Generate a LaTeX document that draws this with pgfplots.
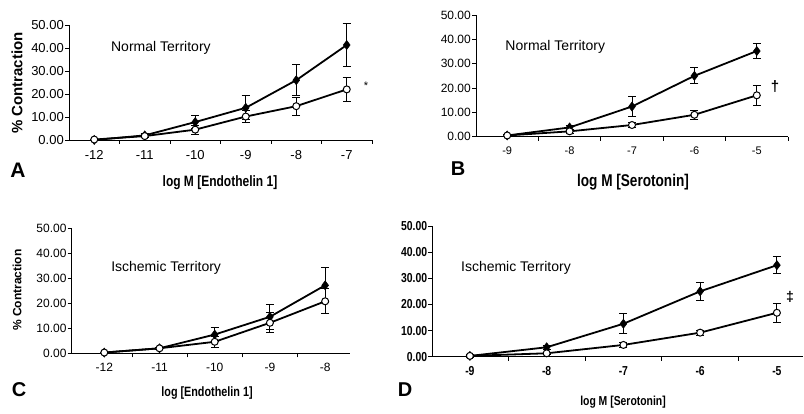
\documentclass[border=0pt]{standalone}
\usepackage{pgfplots}
\pgfplotsset{compat=1.18}
\usepackage{fontspec}
\setmainfont{Liberation Sans}
\newfontfamily\narrow[FakeStretch=0.8]{Liberation Sans}

% one style shared by the four panels
\pgfplotsset{
  panel/.style={
    scale only axis, clip=false,
    axis lines=left, axis line style={-, black, line width=0.8pt},
    ymin=0, ymax=50, ytick={0,10,...,50},
    yticklabels={0.00,10.00,20.00,30.00,40.00,50.00},
    tick align=outside, major tick length=4pt, minor tick length=4pt,
    tick style={black, line width=0.7pt},
    major x tick style={draw=none},
    xtick=data,
    yticklabel style={inner sep=1pt},
    xticklabel style={inner sep=1pt, yshift=-5pt},
  },
  filled/.style={black, line width=1.8pt, mark=diamond*, mark size=4.5pt,
    mark options={solid, fill=black, line width=0.6pt},
    error bars/.cd, y dir=both, y explicit,
    error bar style={line width=0.9pt},
    error mark options={rotate=90, line width=0.9pt, mark size=4pt}},
  open/.style={black, line width=1.8pt, mark=*, mark size=3.5pt,
    mark options={solid, fill=white, line width=1pt},
    error bars/.cd, y dir=both, y explicit,
    error bar style={line width=0.9pt},
    error mark options={rotate=90, line width=0.9pt, mark size=4pt}},
}

\begin{document}
\begin{tikzpicture}
\useasboundingbox (0,0) rectangle (804pt,414pt);

% ---- A
\begin{axis}[panel, at={(69pt,274pt)}, anchor=south west, width=303pt, height=115pt,
  xmin=-12.5, xmax=-6.5, minor xtick={-11.5,-10.5,...,-6.5},
  xticklabels={-12,-11,-10,-9,-8,-7},
  ticklabel style={font=\fontsize{13}{15}\selectfont}]
\addplot[filled] table[y error=e] {
x y e
-12 0 0
-11 2 0.8
-10 7.8 2.7
-9 14 5.2
-8 26 6.8
-7 41.3 9.5
};
\addplot[open] table[y error=e] {
x y e
-12 0.2 0
-11 1.7 0.5
-10 4.5 2
-9 10.2 2.6
-8 14.7 3.9
-7 22 5.4
};
\node[font=\fontsize{14}{16}\selectfont] at (axis cs:-10.68,40) {Normal Territory};
\end{axis}

% ---- B
\begin{axis}[panel, at={(476pt,277.3pt)}, anchor=south west, width=312pt, height=121.7pt,
  xmin=-9.5, xmax=-4.5, minor xtick={-8.5,-7.5,...,-4.5},
  xticklabels={-9,-8,-7,-6,-5},
  yticklabel style={font=\fontsize{12}{14}\selectfont},
  xticklabel style={font=\fontsize{11}{13}\selectfont}]
\addplot[filled] table[y error=e] {
x y e
-9 0.5 0.5
-8 3.8 1
-7 12.4 4.2
-6 25 3.3
-5 35.2 3
};
\addplot[open] table[y error=e] {
x y e
-9 0.5 0.5
-8 2.2 0.8
-7 4.8 1
-6 9 1.8
-5 17 4
};
\node[font=\fontsize{14}{16}\selectfont] at (axis cs:-8.23,36.9) {Normal Territory};
\end{axis}

% ---- C
\begin{axis}[panel, at={(71.7pt,60.7pt)}, anchor=south west, width=278.3pt, height=125pt,
  xmin=-12.59, xmax=-7.55, minor xtick={-11.5,-10.5,...,-7.5},
  xticklabels={-12,-11,-10,-9,-8},
  ticklabel style={font=\fontsize{12}{14}\selectfont}]
\addplot[filled] table[y error=e] {
x y e
-12 0.3 0
-11 2 0.5
-10 7.5 2.8
-9 14.6 5
-8 27.2 7
};
\addplot[open] table[y error=e] {
x y e
-12 0.3 0
-11 2 0.5
-10 4.6 2.3
-9 12.2 4
-8 20.8 5
};
\node[font=\fontsize{14}{16}\selectfont] at (axis cs:-10.88,34.1) {Ischemic Territory};
\end{axis}

% ---- D
\begin{axis}[panel, at={(432.3pt,57.3pt)}, anchor=south west, width=370.7pt, height=130.7pt,
  xmin=-9.49, xmax=-4.66, minor xtick={-8.5,-7.5,...,-5.5},
  xticklabels={-9,-8,-7,-6,-5},
  ticklabel style={font=\narrow\bfseries\fontsize{13}{15}\selectfont}]
\addplot[filled] table[y error=e] {
x y e
-9 0.3 0
-8 3.6 0.8
-7 12.6 3.8
-6 25 3.4
-5 35 3.2
};
\addplot[open] table[y error=e] {
x y e
-9 0.3 0.5
-8 1.3 0.5
-7 4.5 1
-6 9.2 1
-5 16.8 3.6
};
\node[font=\fontsize{14}{16}\selectfont] at (axis cs:-8.4,34) {Ischemic Territory};
\end{axis}

% axis titles, panel letters and marks of significance
\node[font=\narrow\bfseries\fontsize{15}{17}\selectfont] at (220pt,231pt) {log M [Endothelin 1]};
\node[font=\narrow\bfseries\fontsize{17}{19}\selectfont] at (633pt,232pt) {log M [Serotonin]};
\node[font=\narrow\bfseries\fontsize{13.5}{15}\selectfont] at (207pt,21pt) {log [Endothelin 1]};
\node[font=\narrow\bfseries\fontsize{13}{15}\selectfont] at (623pt,12pt) {log M [Serotonin]};
\node[rotate=90, font=\bfseries\fontsize{15}{17}\selectfont] at (17pt,331pt) {\% Contraction};
\node[rotate=90, font=\bfseries\fontsize{12}{14}\selectfont] at (17pt,124pt) {\% Contraction};
\node[font=\bfseries\fontsize{21}{23}\selectfont] at (18pt,244pt) {A};
\node[font=\bfseries\fontsize{20}{22}\selectfont] at (458pt,245pt) {B};
\node[font=\bfseries\fontsize{20}{22}\selectfont] at (19pt,24pt) {C};
\node[font=\bfseries\fontsize{20}{22}\selectfont] at (405pt,24pt) {D};
\node[font=\fontsize{11}{13}\selectfont] at (366pt,328pt) {*};
\node[font=\bfseries\fontsize{15}{17}\selectfont] at (775pt,327pt) {†};
\node[font=\bfseries\fontsize{14}{16}\selectfont] at (790pt,117pt) {‡};
\end{tikzpicture}
\end{document}
